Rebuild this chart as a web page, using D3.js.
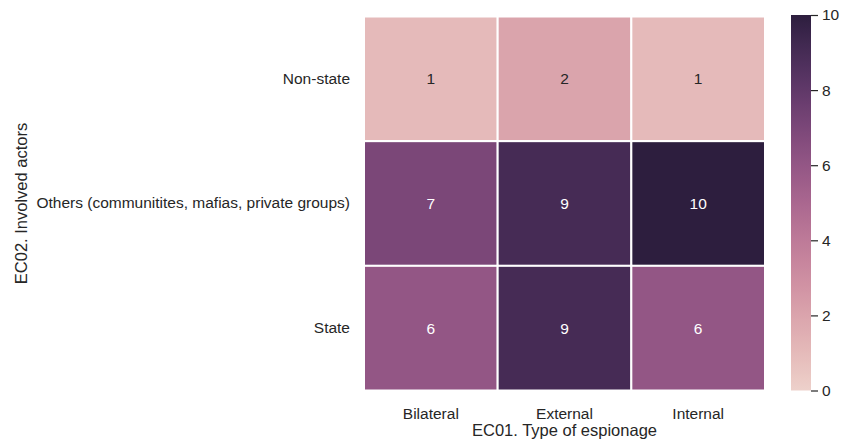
<!DOCTYPE html>
<html>
<head>
<meta charset="utf-8">
<script src="https://cdn.jsdelivr.net/npm/d3@7"></script>
<style>
  html, body { margin: 0; padding: 0; background: #fff; }
  svg text { font-family: "Liberation Sans", Arial, sans-serif; fill: #262626; }
</style>
</head>
<body>
<svg id="chart" width="841" height="441"></svg>
<script>
// Espionage type (columns) vs. involved actors (rows)
const espionageTypes = ["Bilateral", "External", "Internal"];
const actors = ["Non-state", "Others (communitites, mafias, private groups)", "State"];
const counts = [
  [1, 2, 1],
  [7, 9, 10],
  [6, 9, 6]
];
const colorTicks = [0, 2, 4, 6, 8, 10];
const xTitle = "EC01. Type of espionage";
const yTitle = "EC02. Involved actors";

// seaborn-style cubehelix palette (start=0, rot=0.4, hue=0.8, light=0.85, dark=0.15)
function cubehelix(x) {
  const start = 0, rot = 0.4, gamma = 1, hue = 0.8;
  const xg = Math.pow(x, gamma);
  const a = hue * xg * (1 - xg) / 2;
  const phi = 2 * Math.PI * (start / 3 + rot * x);
  const c = (p0, p1) => Math.max(0, Math.min(1, xg + a * (p0 * Math.cos(phi) + p1 * Math.sin(phi))));
  return d3.rgb(
    255 * c(-0.14861, 1.78277),
    255 * c(-0.29227, -0.90649),
    255 * c(1.97294, 0.0)
  );
}
const lightEnd = 0.85, darkEnd = 0.15;
const vmin = 0, vmax = 10;
const color = v => {
  const t = (v - vmin) / (vmax - vmin);
  return cubehelix(lightEnd + (darkEnd - lightEnd) * t).formatHex();
};

const tickFont = "15.5px";
const titleFont = "16.5px";

const svg = d3.select("#chart");
const plotLeft = 364, plotRight = 765, plotTop = 16.5, plotBottom = 390.5;

const x = d3.scaleBand().domain(espionageTypes).range([plotLeft, plotRight]);
const y = d3.scaleBand().domain(actors).range([plotTop, plotBottom]);

const cells = [];
actors.forEach((a, i) => espionageTypes.forEach((t, j) => cells.push({ a, t, v: counts[i][j] })));

svg.append("g").selectAll("rect").data(cells).join("rect")
  .attr("x", d => x(d.t))
  .attr("y", d => y(d.a))
  .attr("width", x.bandwidth())
  .attr("height", y.bandwidth())
  .attr("fill", d => color(d.v))
  .attr("stroke", "#fff")
  .attr("stroke-width", 2);

svg.append("g").selectAll("text").data(cells).join("text")
  .attr("x", d => x(d.t) + x.bandwidth() / 2)
  .attr("y", d => y(d.a) + y.bandwidth() / 2)
  .attr("text-anchor", "middle")
  .attr("dominant-baseline", "central")
  .style("font-size", tickFont)
  .style("fill", d => d.v >= 4 ? "#ffffff" : "#262626")
  .text(d => d.v);

// Axes (no tick marks, labels only)
const styleTicks = g => g.selectAll("text")
  .style("font-size", tickFont)
  .style("fill", "#262626")
  .style("font-family", "Liberation Sans, Arial, sans-serif");

const xAxis = svg.append("g")
  .attr("transform", `translate(0,${plotBottom})`)
  .call(d3.axisBottom(x).tickSize(0).tickPadding(17));
xAxis.select(".domain").remove();
styleTicks(xAxis);

const yAxis = svg.append("g")
  .attr("transform", `translate(${plotLeft},0)`)
  .call(d3.axisLeft(y).tickSize(0).tickPadding(14));
yAxis.select(".domain").remove();
styleTicks(yAxis);

svg.append("text")
  .attr("x", (plotLeft + plotRight) / 2)
  .attr("y", 436)
  .attr("text-anchor", "middle")
  .style("font-size", titleFont)
  .text(xTitle);

svg.append("text")
  .attr("transform", `translate(27,${(plotTop + plotBottom) / 2}) rotate(-90)`)
  .attr("text-anchor", "middle")
  .style("font-size", titleFont)
  .text(yTitle);

// Colorbar
const cbX = 791, cbW = 20, cbTop = 15, cbBottom = 390.5;
const defs = svg.append("defs");
const grad = defs.append("linearGradient")
  .attr("id", "cbar").attr("x1", 0).attr("y1", 1).attr("x2", 0).attr("y2", 0);
d3.range(0, 1.0001, 1 / 64).forEach(t => {
  grad.append("stop").attr("offset", t).attr("stop-color", color(vmin + t * (vmax - vmin)));
});
svg.append("rect")
  .attr("x", cbX).attr("y", cbTop).attr("width", cbW).attr("height", cbBottom - cbTop)
  .attr("fill", "url(#cbar)");

const cScale = d3.scaleLinear().domain([vmin, vmax]).range([cbBottom, cbTop]);
const cAxis = svg.append("g")
  .attr("transform", `translate(${cbX + cbW},0)`)
  .call(d3.axisRight(cScale).tickValues(colorTicks).tickSize(7).tickPadding(4));
cAxis.select(".domain").remove();
cAxis.selectAll("line").attr("stroke", "#262626").attr("stroke-width", 1.2);
styleTicks(cAxis);
</script>
</body>
</html>
